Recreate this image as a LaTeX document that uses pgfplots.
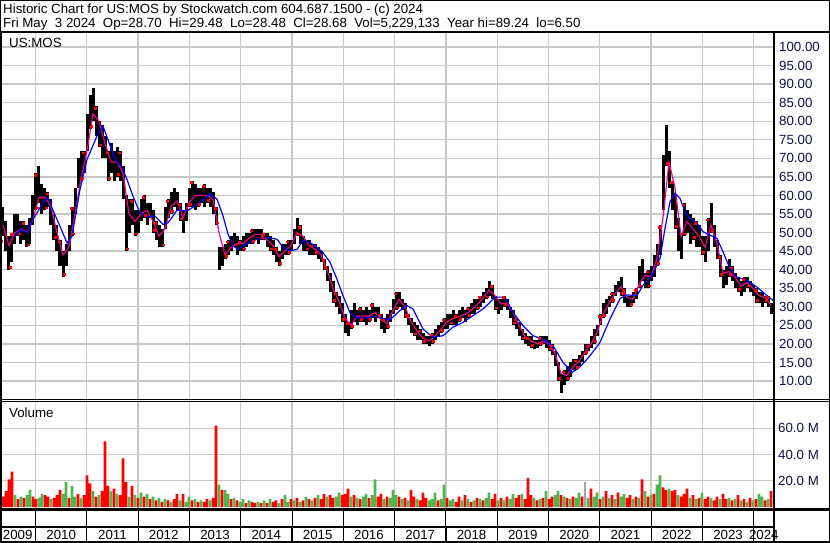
\documentclass[border=0pt]{standalone}
\usepackage{fontspec}
\setmainfont{Liberation Sans}
\usepackage{pgfplots}
\usepackage{pgfplotstable}
\pgfplotsset{compat=1.18}
\definecolor{gridc}{RGB}{200,200,200}
\definecolor{volg}{RGB}{76,184,76}
\definecolor{volr}{RGB}{255,0,0}
\definecolor{volgray}{RGB}{165,165,165}
\definecolor{lab}{RGB}{16,16,72}
\newcommand\fs{\fontsize{13.3}{16}\selectfont}
% x = week index (about one pixel per week), lo/hi price range, v volume (M), c colour (1 red, 0 green, 2 grey)
\pgfplotstableread{
x lo hi v c
0 47 56 10 0
3 49 57 8 1
6 45 53 12 1
9 40 49 21 1
12 42 50 27 1
15 47 55 9 0
18 49 55 6 1
21 47 53 8 0
24 48 53 7 1
27 46 52 9 0
30 47 54 13 0
33 52 60 8 1
36 56 66 6 1
39 58 68 7 0
42 55 63 10 0
45 56 62 9 1
48 57 61 8 1
51 52 59 6 0
54 48 55 7 1
57 45 52 9 1
60 41 48 13 1
63 38 45 10 0
66 41 47 19 0
69 45 52 7 1
72 49 57 16 0
75 55 62 8 0
78 62 70 10 1
81 64 72 7 0
84 66 72 9 1
87 72 82 24 1
90 78 87 18 1
93 80 89 12 0
96 76 84 8 1
99 73 80 9 0
102 70 79 12 1
105 70 76 50 1
108 64 72 16 1
111 66 74 12 0
114 64 72 14 1
117 65 73 10 0
120 64 72 9 1
123 59 68 37 1
126 45 60 19 1
129 50 59 8 0
132 52 59 16 1
135 49 56 9 0
138 50 56 7 1
141 53 59 11 0
144 54 60 8 1
147 52 58 10 0
150 54 58 6 1
153 50 56 8 0
156 48 53 5 1
159 46 52 7 0
162 46 51 4 1
165 51 57 6 0
168 54 59 5 1
171 55 61 4 0
174 57 62 6 1
177 56 61 10 1
180 53 58 5 0
183 50 56 10 1
186 53 58 4 0
189 57 62 8 0
192 57 64 5 1
195 56 63 6 0
198 57 62 4 1
201 58 62 5 0
204 57 63 4 1
207 58 62 6 1
210 57 62 5 0
213 55 61 7 1
216 52 57 62 1
219 40 46 17 0
222 41 46 13 1
225 43 47 13 0
228 44 48 10 0
231 45 49 6 1
234 46 50 7 0
237 44 49 5 1
240 45 48 4 0
243 45 49 6 0
246 46 50 3 1
249 47 50 5 0
252 47 51 4 1
255 48 51 3 1
258 47 51 4 0
261 48 51 3 1
264 48 50 5 0
267 46 50 3 1
270 45 49 6 0
273 44 48 4 1
276 42 46 5 1
279 41 45 3 0
282 43 47 6 1
285 44 47 9 0
288 44 48 4 0
291 45 48 6 1
294 47 51 5 0
297 49 54 7 1
300 47 52 4 0
303 45 49 5 1
306 45 48 8 0
309 44 48 6 1
312 44 47 5 0
315 44 47 7 1
318 43 46 9 0
321 42 45 6 1
324 40 43 10 1
327 37 41 8 0
330 34 39 9 1
333 31 37 7 1
336 30 34 8 0
339 28 33 11 0
342 26 31 9 1
345 23 28 10 1
348 22 26 14 1
351 24 29 8 0
354 26 31 9 1
357 25 29 7 0
360 26 30 6 1
363 26 29 8 0
366 25 30 10 0
369 26 29 7 1
372 27 31 9 0
375 26 30 21 0
378 27 30 8 1
381 24 28 10 1
384 23 27 6 0
387 24 28 8 1
390 26 29 7 0
393 28 32 13 0
396 29 34 9 0
399 30 34 8 1
402 29 32 6 0
405 27 31 7 1
408 25 28 5 0
411 23 27 13 1
414 22 26 8 1
417 21 25 6 0
420 21 24 5 1
423 20 23 11 1
426 20 22 7 1
429 19.5 22 5 0
432 20 23 6 0
435 21 24 11 0
438 22 25 5 1
441 23 26 6 0
444 24 27 17 0
447 24 28 7 1
450 25 28 5 0
453 25 29 6 0
456 25 28 4 1
459 26 29 8 1
462 27 30 5 0
465 26 29 9 1
468 27 30 6 0
471 28 31 4 1
474 28 32 5 0
477 29 32 7 1
480 30 33 6 0
483 31 34 5 1
486 32 35 7 0
489 33 37 11 0
492 32 36 6 1
495 29 33 10 1
498 28 32 5 0
501 29 32 7 1
504 30 33 5 0
507 29 32 8 1
510 27 30 6 0
513 25 29 10 0
516 24 27 7 1
519 22 26 9 1
522 21 24 10 0
525 20 23 6 1
528 19.5 22 22 1
531 19 22 9 1
534 18.6 21 7 0
537 19 21 5 1
540 19.5 22 6 0
543 20 22 7 1
546 19 22 12 0
549 18 21 6 1
552 17 20 8 1
555 14 18 9 0
558 10 15 12 0
561 6.9 12 9 1
564 9 13 8 0
567 10 14 7 1
570 11 15 6 0
573 13 16 8 1
576 13 16 7 0
579 14 17 11 0
582 15 18 8 1
585 17 20 19 2
588 18 20 7 0
591 19 22 14 1
594 20 24 8 0
597 22 25 11 0
600 25 28 6 1
603 27 31 8 0
606 28 32 12 1
609 30 33 7 0
612 31 34 9 1
615 33 36 6 0
618 34 37 11 1
621 33 38 8 0
624 31 35 10 0
627 30 33 7 1
630 30 33 9 1
633 31 34 6 0
636 32 35 8 1
639 35 41 7 0
642 37 43 21 1
645 35 39 12 0
648 35 40 8 1
651 37 41 9 0
654 38 44 10 1
657 41 47 17 0
660 44 52 24 0
663 56 71 15 1
666 68 79 13 1
669 62 72 14 0
672 56 64 12 1
675 51 60 13 1
678 45 54 9 0
681 43 50 8 1
684 49 58 10 1
687 50 56 14 1
690 47 55 7 0
693 48 54 9 1
696 46 53 6 0
699 46 52 7 1
702 44 49 11 0
705 42 49 6 1
708 45 54 8 1
711 50 58 7 0
714 46 52 5 1
717 43 48 8 1
720 38 44 6 0
723 35 40 10 1
726 36 41 6 1
729 38 43 7 0
732 37 41 5 1
735 35 39 6 0
738 34 38 9 1
741 33 37 5 0
744 34 38 6 1
747 35 38 4 0
750 34 37 7 1
753 33 36 5 0
756 31 35 6 1
759 31 34 10 0
762 30 34 8 0
765 31 33 5 1
768 30 33 6 0
771 28 31 12 1
}\data
\pgfplotsset{sw/.style={scale only axis, width=774pt, xmin=0, xmax=774,
  axis line style={draw=none}, tick style={draw=none},
  xtick={35.5,86.8,138.1,189.4,240.7,292,343.3,394.6,445.9,497.2,548.5,599.8,651.1,702.4,753.7},
  xticklabels={}, grid=major, major grid style={gridc, line width=1.3pt},
  tick label style={font=\fs, text=lab},
  yticklabel pos=right, yticklabel style={anchor=west, inner sep=0pt, xshift=5pt}}}
\begin{document}
\begin{tikzpicture}
\useasboundingbox (0pt,0pt) rectangle (830pt,543pt);
\fill[white] (0pt,0pt) rectangle (830pt,543pt);
\node[anchor=base west, inner sep=0pt, font=\fs] at (3pt,529.5pt) {Historic Chart for US:MOS by Stockwatch.com 604.687.1500 - (c) 2024};
\node[anchor=base west, inner sep=0pt, font=\fs] at (3pt,515.5pt) {Fri May\ \ 3 2024\ \ Op=28.70\ \ Hi=29.48\ \ Lo=28.48\ \ Cl=28.68\ \ Vol=5,229,133\ \ Year hi=89.24\ \ lo=6.50};
% price panel
\begin{axis}[sw, at={(0pt,143pt)}, anchor=south west, height=367pt,
  ymin=4.88, ymax=103.77, ytick={10,15,...,100},
  yticklabels={10.00,15.00,20.00,25.00,30.00,35.00,40.00,45.00,50.00,55.00,60.00,65.00,70.00,75.00,80.00,85.00,90.00,95.00,100.00}]
\addplot[draw=none, mark=none, forget plot, line width=3pt,
  error bars/.cd, y dir=both, y explicit, error mark=none,
  error bar style={draw=black, line width=3pt}]
  table[x=x, y expr={(\thisrow{lo}+\thisrow{hi})/2}, y error expr={(\thisrow{hi}-\thisrow{lo})/2}]{\data};
\addplot[only marks, mark=square*, mark size=0.8pt, red, mark options={draw=none}, each nth point=3, filter discard warning=false]
  table[x expr=\thisrow{x}+1, y expr=\thisrow{lo}+0.7]{\data};
\addplot[only marks, mark=square*, mark size=0.8pt, red, mark options={draw=none}, each nth point=4, filter discard warning=false]
  table[x expr=\thisrow{x}-1, y expr=\thisrow{hi}-0.5]{\data};
\addplot[magenta, line width=1.2pt, mark=none] coordinates {
(3,52) (9,46.5) (15,50) (21,51) (27,50) (33,53.5) (39,59.5) (45,59.5) (51,57) (57,50) (63,44) (69,46) (75,55) (81,64.5) (87,72) (93,82) (99,80) (105,74) (111,69) (117,69) (123,66) (129,55) (135,53) (141,55) (147,56) (153,53) (159,49) (165,51) (171,57) (177,58.5) (183,54) (189,58) (195,60) (201,60) (207,60) (213,59) (219,50) (225,44) (231,46) (237,47) (243,47) (249,48.5) (255,49.5) (261,49.5) (267,48) (273,46.5) (279,43.5) (285,45) (291,46.5) (297,50) (303,49) (309,46.5) (315,45.5) (321,44) (327,40) (333,35) (339,31.5) (345,27) (351,25) (357,27.5) (363,27.5) (369,27.5) (375,28.5) (381,26.5) (387,25.5) (393,29) (399,32) (405,30) (411,26) (417,23.5) (423,21.5) (429,20.8) (435,22) (441,24) (447,26) (453,26.8) (459,27.3) (465,28) (471,29) (477,30.5) (483,32.3) (489,34.5) (495,33) (501,30.8) (507,31) (513,28.5) (519,25) (525,22) (531,20.8) (537,20) (543,20.7) (549,20) (555,17.5) (561,12) (567,11.5) (573,13.8) (579,15.3) (585,17.8) (591,20) (597,23) (603,28) (609,31) (615,33.5) (621,35.5) (627,32.5) (633,32) (639,36) (645,38.5) (651,38) (657,43) (663,54) (669,69) (675,62) (681,49) (687,53) (693,51) (699,49) (705,46) (711,52) (717,47) (723,39) (729,39.5) (735,38) (741,35.5) (747,36.5) (753,35) (759,33) (765,32.5) (771,30.5)};
\addplot[blue, line width=1.2pt, mark=none] coordinates {
(15,49) (20,50.8) (27,50) (33,53.5) (43,58) (48,59.4) (53,56) (60,51.7) (67,47.2) (72,49) (80,61.6) (87,69.7) (97,76) (103,78.7) (108,75) (115,69.7) (122,67.5) (127,64.3) (133,59.8) (140,55.3) (147,54.4) (155,54.4) (163,52.2) (168,52.6) (177,56) (187,55.8) (200,58) (210,60.4) (217,59) (223,54.5) (228,49.6) (233,46.4) (238,45.5) (247,47) (257,48.2) (267,48.7) (277,48.2) (283,46) (290,45) (297,45.5) (303,47.8) (310,47.3) (317,46) (323,44.6) (330,42) (337,37.4) (343,33) (350,28.4) (357,27) (367,27) (377,27.5) (383,26.8) (390,26.5) (400,29) (407,30.3) (413,29.4) (423,24) (433,21.8) (443,22.2) (453,24.5) (463,25.8) (473,27.6) (483,29.4) (490,31.2) (495,32.6) (505,32.6) (513,28.5) (523,24.9) (533,22.2) (543,21.3) (553,19.5) (563,15) (572,12.3) (580,13.8) (590,16.8) (600,20.4) (610,26.7) (620,32.2) (627,33.2) (637,33) (643,35.8) (652,38.5) (660,43) (665,51.1) (670,58.3) (675,60.6) (680,59.2) (685,55.6) (690,53.8) (697,52.5) (703,50.2) (710,49.3) (717,48.4) (723,44.8) (730,40.3) (737,38) (747,37.1) (757,35.3) (767,33) (773,31.7)};
\end{axis}
\node[anchor=base west, inner sep=0pt, font=\fs] at (9pt,495pt) {US:MOS};
% volume panel
\begin{axis}[sw, at={(0pt,34pt)}, anchor=south west, height=108pt,
  ymin=-1.52, ymax=80.76, ytick={20,40,60}, yticklabels={20.0 M,40.0 M,60.0 M},
  yticklabel style={xshift=-1pt}]
\addplot[ybar, bar width=2.6pt, bar shift=0pt, fill=volg, draw=none, restrict expr to domain={\thisrow{c}}{0:0}] table[x=x, y=v]{\data};
\addplot[ybar, bar width=2.6pt, bar shift=0pt, fill=volr, draw=none, restrict expr to domain={\thisrow{c}}{1:1}] table[x=x, y=v]{\data};
\addplot[ybar, bar width=2.6pt, bar shift=0pt, fill=volgray, draw=none, restrict expr to domain={\thisrow{c}}{2:2}] table[x=x, y=v]{\data};
\end{axis}
\node[anchor=base west, inner sep=0pt, font=\fs] at (9pt,125pt) {Volume};
% empty strip
\begin{axis}[scale only axis, width=774pt, height=17pt, at={(0pt,16pt)}, anchor=south west,
  xmin=0, xmax=774, ymin=0, ymax=1, axis line style={draw=none}, tick style={draw=none},
  xtick={35.5,86.8,138.1,189.4,240.7,292,343.3,394.6,445.9,497.2,548.5,599.8,651.1,702.4,753.7},
  xticklabels={}, ytick=\empty, xmajorgrids, major grid style={black, line width=1pt}]
\addplot[draw=none] coordinates {(0,0)};
\end{axis}
% year label strip
\begin{axis}[scale only axis, width=774pt, height=16pt, at={(0pt,0pt)}, anchor=south west,
  xmin=0, xmax=774, ymin=0, ymax=1, axis line style={draw=none}, tick style={draw=none},
  xtick={0,35.5,86.8,138.1,189.4,240.7,292,343.3,394.6,445.9,497.2,548.5,599.8,651.1,702.4,753.7,774},
  xticklabels={2009,2010,2011,2012,2013,2014,2015,2016,2017,2018,2019,2020,2021,2022,2023,2024},
  x tick label as interval, ytick=\empty, xmajorgrids, major grid style={black, line width=1.2pt},
  xticklabel style={anchor=center, yshift=8pt, font=\fs, text=black}]
\addplot[draw=none] coordinates {(0,0)};
\end{axis}
% frame lines
\draw[line width=2pt] (0pt,511pt) -- (830pt,511pt);
\draw[line width=1pt] (0pt,143.5pt) -- (830pt,143.5pt);
\draw[line width=1pt] (0pt,141.2pt) -- (830pt,141.2pt);
\draw[line width=2.4pt] (0pt,33.3pt) -- (830pt,33.3pt);
\draw[line width=2pt] (0pt,16.2pt) -- (774pt,16.2pt);
\draw[line width=2pt] (0pt,1pt) -- (830pt,1pt);
\draw[line width=2.4pt] (1.2pt,0pt) -- (1.2pt,511pt);
\draw[line width=2pt] (774pt,0pt) -- (774pt,511pt);
\draw[line width=1pt] (0.5pt,0.5pt) rectangle (829.5pt,542.5pt);
\end{tikzpicture}
\end{document}
